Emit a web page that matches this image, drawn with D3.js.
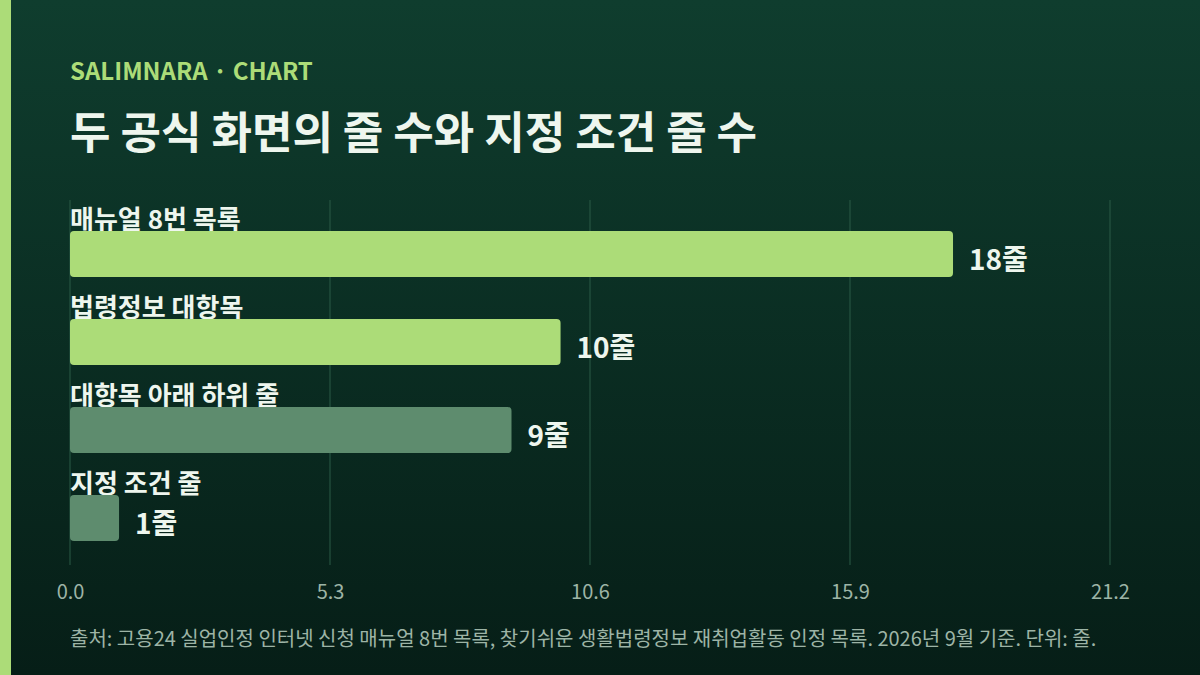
<!DOCTYPE html>
<html>
<head>
<meta charset="utf-8">
<script src="https://cdn.jsdelivr.net/npm/d3@7"></script>
<style>
  html, body { margin: 0; padding: 0; background: #0b2a20; }
  svg { display: block; font-family: "Noto Sans CJK KR", "Noto Sans", sans-serif; }
</style>
</head>
<body>
<div id="chart"></div>
<script>
var width = 1200, height = 675;
var margin = {top: 200, right: 90, bottom: 110, left: 70};

// data
var categories = ['매뉴얼 8번 목록', '법령정보 대항목', '대항목 아래 하위 줄', '지정 조건 줄'];
var values = [18, 10, 9, 1];
var highlight = [true, true, false, false];
var tickValues = [0, 5.3, 10.6, 15.9, 21.2];

var svg = d3.select('#chart').append('svg')
    .attr('width', width)
    .attr('height', height);

// background gradient
var defs = svg.append('defs');
var grad = defs.append('linearGradient')
    .attr('id', 'bg')
    .attr('x1', 0).attr('y1', 0).attr('x2', 0).attr('y2', 1);
grad.append('stop').attr('offset', '0%').attr('stop-color', '#0f3d2e');
grad.append('stop').attr('offset', '100%').attr('stop-color', '#061e17');

svg.append('rect')
    .attr('width', width).attr('height', height)
    .attr('fill', 'url(#bg)');

// left accent strip
svg.append('rect')
    .attr('x', 0).attr('y', 0)
    .attr('width', 11).attr('height', height)
    .attr('fill', '#acdc78');

// header
svg.append('text')
    .attr('x', 70).attr('y', 80)
    .attr('fill', '#acdc78')
    .style('font-size', '24px')
    .style('font-weight', 700)
    .text('SALIMNARA · CHART');

svg.append('text')
    .attr('x', 70).attr('y', 149)
    .attr('fill', '#eef6ee')
    .style('font-size', '44px')
    .style('font-weight', 700)
    .text('두 공식 화면의 줄 수와 지정 조건 줄 수');

// scales
var xScale = d3.scaleLinear()
    .domain([0, 21.2])
    .range([margin.left, 1110]);

var yScale = d3.scaleBand()
    .domain(categories)
    .range([margin.top, 552])
    .paddingInner(0);

var barH = 46;
var barOffset = 31;

// gridlines
var grid = svg.append('g');
grid.selectAll('line')
    .data(tickValues)
    .enter().append('line')
      .attr('x1', function(d) { return xScale(d); })
      .attr('x2', function(d) { return xScale(d); })
      .attr('y1', 200)
      .attr('y2', 565)
      .attr('stroke', '#2b5a47')
      .attr('stroke-width', 1);

// x axis labels
var axis = svg.append('g')
    .attr('transform', 'translate(0,' + 565 + ')')
    .call(d3.axisBottom(xScale)
        .tickValues(tickValues)
        .tickFormat(d3.format('.1f'))
        .tickSize(0)
        .tickPadding(20));
axis.select('.domain').remove();
axis.selectAll('text')
    .attr('fill', '#9db4a6')
    .style('font-size', '20px')
    .style('font-family', '"Noto Sans CJK KR", "Noto Sans", sans-serif');

// bars
var rows = svg.selectAll('.row')
    .data(categories)
    .enter().append('g')
      .attr('class', 'row');

rows.append('text')
    .attr('x', margin.left)
    .attr('y', function(d) { return yScale(d) + 29; })
    .attr('fill', '#eef6ee')
    .style('font-size', '26px')
    .style('font-weight', 700)
    .text(function(d) { return d; });

rows.append('rect')
    .attr('class', 'bar')
    .attr('x', xScale(0))
    .attr('y', function(d) { return yScale(d) + barOffset; })
    .attr('width', function(d, i) { return xScale(values[i]) - xScale(0); })
    .attr('height', barH)
    .attr('rx', 4)
    .attr('fill', function(d, i) { return highlight[i] ? '#acdc78' : '#5e8c6e'; });

rows.append('text')
    .attr('x', function(d, i) { return xScale(values[i]) + 16; })
    .attr('y', function(d) { return yScale(d) + barOffset + barH / 2 + 16; })
    .attr('fill', '#eef6ee')
    .style('font-size', '28px')
    .style('font-weight', 700)
    .text(function(d, i) { return values[i] + '줄'; });

// footer
svg.append('text')
    .attr('x', 70).attr('y', 646)
    .attr('fill', '#9db4a6')
    .style('font-size', '20px')
    .text('출처: 고용24 실업인정 인터넷 신청 매뉴얼 8번 목록, 찾기쉬운 생활법령정보 재취업활동 인정 목록. 2026년 9월 기준. 단위: 줄.');
</script>
</body>
</html>
